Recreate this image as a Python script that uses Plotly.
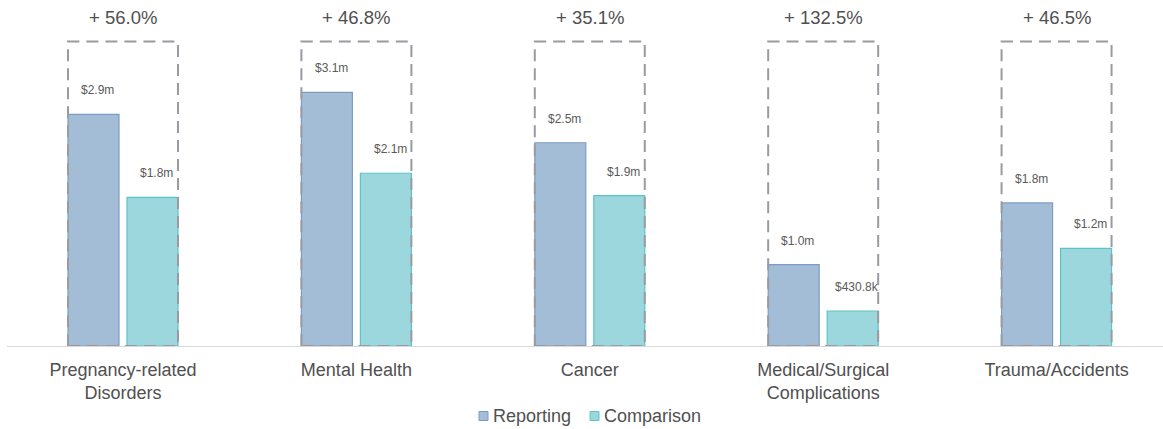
import plotly.graph_objects as go

# Claim cost by condition: reporting period vs comparison period (in $m)
categories = ["Pregnancy-related<br>Disorders", "Mental Health", "Cancer",
              "Medical/Surgical<br>Complications", "Trauma/Accidents"]
reporting = [2.85, 3.12, 2.50, 1.0017, 1.76]
comparison = [1.827, 2.125, 1.8505, 0.4308, 1.2014]
series_names = ["Reporting", "Comparison"]


def money(v):
    if v >= 1:
        return f"${v:.1f}m"
    return f"${v * 1000:.1f}k"


rep_fill, rep_line = "#a3bdd6", "#7b9cc2"
cmp_fill, cmp_line = "#9cd7dd", "#5cc3c9"
grey_text = "#505050"
font_family = "Liberation Sans, Arial, sans-serif"

# plot area geometry (pixels)
W, H = 1163, 429
ML, MR, MT, MB = 7, 0, 30, 83
plot_w = W - ML - MR
plot_h = H - MT - MB

bar_w = 0.2185
bar_off = 0.1264
half_group = bar_off + bar_w / 2
idx = list(range(len(categories)))

fig = go.Figure()
for name, vals, sign, fill, line in (("Reporting", reporting, -1, rep_fill, rep_line),
                                     ("Comparison", comparison, 1, cmp_fill, cmp_line)):
    fig.add_trace(go.Bar(name=name, x=[i + sign * bar_off for i in idx], y=vals,
                         width=bar_w,
                         marker=dict(color=fill, line=dict(color=line, width=1.2)),
                         hoverinfo="skip", showlegend=False))

box_top = max(reporting) * 1.2

shapes = []
annotations = []
for i, (r, c) in enumerate(zip(reporting, comparison)):
    shapes.append(dict(type="rect", xref="x", yref="y",
                       x0=i - half_group, x1=i + half_group, y0=0, y1=box_top,
                       line=dict(color="#9a9aa2", width=2, dash="12px,7px"),
                       fillcolor="rgba(0,0,0,0)", layer="above"))
    pct = (r / c - 1) * 100
    annotations.append(dict(x=i, y=box_top, xref="x", yref="y", text=f"+ {pct:.1f}%",
                            showarrow=False, yanchor="bottom", yshift=12,
                            font=dict(size=18.5, color=grey_text, family=font_family)))
    for val, off in ((r, -bar_off), (c, bar_off)):
        annotations.append(dict(x=i + off + 0.018, y=val, xref="x", yref="y",
                                text=money(val), showarrow=False, yanchor="bottom",
                                yshift=15, font=dict(size=12, color="#5a5a5a", family=font_family)))

# legend drawn as swatches + labels below the axis
legend_items = [("Reporting", rep_fill, rep_line, 479), ("Comparison", cmp_fill, cmp_line, 590)]
legend_cy = 416
for name, fill, line, px in legend_items:
    x0 = (px - ML) / plot_w
    x1 = (px + 9 - ML) / plot_w
    y0 = (MT + plot_h - (legend_cy + 4.5)) / plot_h
    y1 = (MT + plot_h - (legend_cy - 4.5)) / plot_h
    shapes.append(dict(type="rect", xref="paper", yref="paper", x0=x0, x1=x1, y0=y0, y1=y1,
                       fillcolor=fill, line=dict(color=line, width=1)))
    annotations.append(dict(x=(px + 12 - ML) / plot_w, y=(MT + plot_h - legend_cy) / plot_h,
                            xref="paper", yref="paper", text=name, showarrow=False,
                            xanchor="left", yanchor="middle",
                            font=dict(size=18, color=grey_text, family=font_family)))

fig.update_layout(
    width=W, height=H,
    margin=dict(l=ML, r=MR, t=MT, b=MB),
    paper_bgcolor="white", plot_bgcolor="white",
    barmode="overlay",
    font=dict(family=font_family, color=grey_text, size=18),
    shapes=shapes, annotations=annotations,
    showlegend=False,
    xaxis=dict(range=[-0.497, 4.456], tickvals=idx,
               ticktext=categories, showline=True, linecolor="#d9d9d9", linewidth=1,
               showgrid=False, zeroline=False, ticks="", automargin=False,
               ticklabelstandoff=7,
               tickfont=dict(size=18, color=grey_text, family=font_family)),
    yaxis=dict(range=[0, plot_h / 81.3], visible=False, showgrid=False, zeroline=False,
               automargin=False),
)

fig.write_html("out.html")
